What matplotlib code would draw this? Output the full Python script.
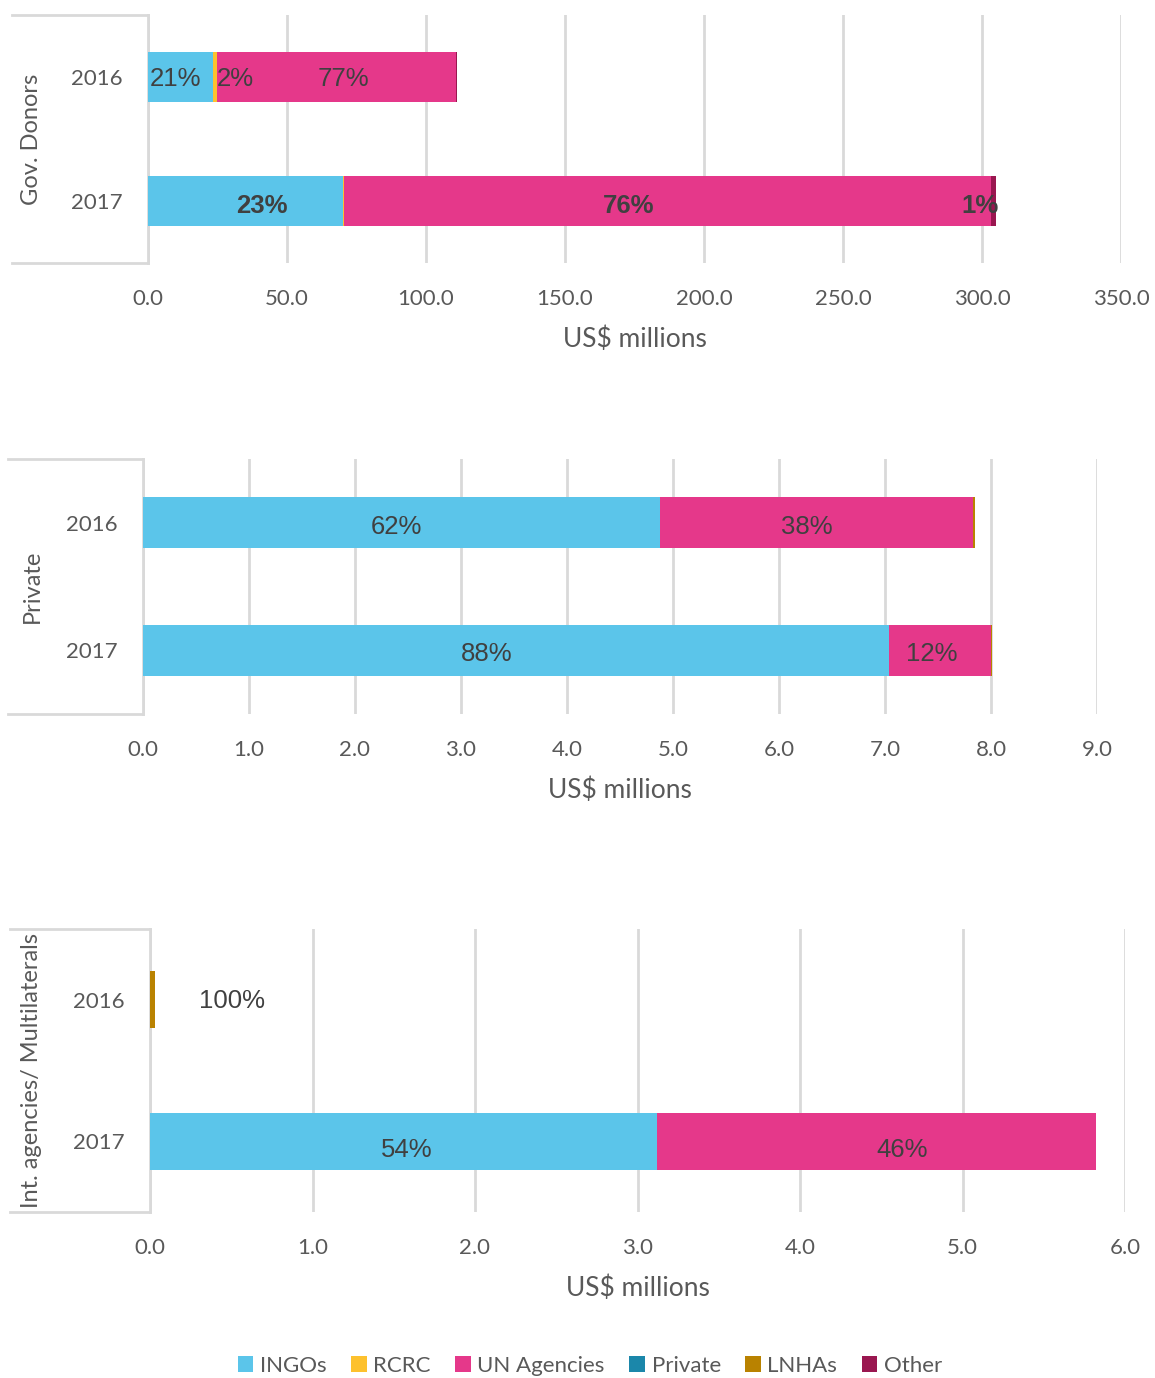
import numpy as np
import matplotlib.pyplot as plt
from matplotlib.patches import Patch

years = ['2016', '2017']
categories = ['INGOs', 'RCRC', 'UN Agencies', 'Private', 'LNHAs', 'Other']
colors = ['#5BC5EA', '#FDC12E', '#E5388A', '#1B87AA', '#B98200', '#9A1750']

# values in US$ millions, rows = years, cols = categories
gov_values = [[23.4, 1.5, 85.9, 0.0, 0.0, 0.3],
              [70.1, 0.4, 232.7, 0.0, 0.0, 1.8]]
gov_labels = [['21%', '2%', '77%', '', '', ''],
              ['23%', '', '76%', '', '', '1%']]

priv_values = [[4.88, 0.0, 2.95, 0.0, 0.02, 0.0],
               [7.04, 0.0, 0.96, 0.0, 0.01, 0.0]]
priv_labels = [['62%', '', '38%', '', '', ''],
               ['88%', '', '12%', '', '', '']]

int_values = [[0.0, 0.0, 0.0, 0.0, 0.03, 0.0],
              [3.12, 0.0, 2.70, 0.0, 0.0, 0.0]]
int_labels = [['', '', '', '', '100%', ''],
              ['54%', '', '46%', '', '', '']]

gov_ticks = np.arange(0, 351, 50)
priv_ticks = np.arange(0, 9.1, 1)
int_ticks = np.arange(0, 6.1, 1)

GRID = '#D9D9D9'
TXT = '#595959'
LBL = '#404040'
plt.rcParams['font.family'] = ['Lato', 'DejaVu Sans']

fig = plt.figure(figsize=(11.55, 13.78), dpi=100)
W, H = 1155, 1378


def panel(box, values, labels, ticks, group, bold, nudges, frame_x0):
    l, t, r, b = box
    ax = fig.add_axes([l / W, 1 - b / H, (r - l) / W, (b - t) / H])
    vals = np.array(values)
    y = np.arange(len(years))
    left = np.zeros(len(years))
    for j, cat in enumerate(categories):
        ax.barh(y, vals[:, j], left=left, height=0.4, color=colors[j],
                zorder=3)
        for i in range(len(years)):
            txt = labels[i][j]
            if txt:
                dx, dy = nudges.get((i, j), (0, -2))
                ax.annotate(txt, (left[i] + vals[i, j] / 2, y[i]),
                            xytext=(dx, dy), textcoords='offset pixels',
                            ha='center', va='center', fontsize=18.5,
                            color=LBL, family='Liberation Sans',
                            fontweight='bold' if bold[i] else 'normal',
                            zorder=5)
        left += vals[:, j]
    ax.set_xlim(ticks[0], ticks[-1])
    ax.set_ylim(len(years) - 0.5, -0.5)
    ax.set_xticks(ticks)
    ax.set_xticklabels(['{:.1f}'.format(v) for v in ticks])
    ax.set_yticks(y)
    ax.set_yticklabels(years)
    ax.tick_params(axis='both', length=0, labelsize=16, colors=TXT)
    ax.tick_params(axis='y', pad=18)
    ax.tick_params(axis='x', pad=19)
    ax.grid(axis='x', color=GRID, linewidth=2, zorder=0)
    for s in ['top', 'right', 'bottom']:
        ax.spines[s].set_visible(False)
    ax.spines['left'].set_color(GRID)
    ax.spines['left'].set_linewidth(2)
    ax.set_xlabel('US$ millions', fontsize=19, color=TXT, labelpad=12)
    # frame lines around the group label
    x0 = (frame_x0 - l) / (r - l)
    for yy in (0, 1):
        ax.plot([x0, 0], [yy, yy], transform=ax.transAxes, color=GRID,
                linewidth=2, clip_on=False)
    ax.text(-(l - 32) / (r - l), 0.5, group, transform=ax.transAxes,
            rotation=90, ha='center', va='center', fontsize=17,
            color=TXT)
    return ax


panel((148, 15, 1121, 263), gov_values, gov_labels, gov_ticks,
      'Gov. Donors', [False, True],
      {(0, 0): (-5, -2), (0, 1): (20, -2), (0, 2): (7, -2), (1, 0): (16, -5),
       (1, 2): (-39, -5), (1, 5): (-13, -5)}, 12)
panel((143, 459, 1097, 714), priv_values, priv_labels, priv_ticks,
      'Private', [False, False],
      {(0, 0): (-5, -4), (0, 2): (-10, -4), (1, 0): (-29, -4),
       (1, 2): (-8, -4)}, 8)
panel((150, 929, 1125, 1212), int_values, int_labels, int_ticks,
      'Int. agencies/ Multilaterals', [False, False],
      {(0, 4): (80, -1), (1, 0): (3, -9), (1, 2): (26, -9)}, 10)

handles = [Patch(facecolor=c, edgecolor='none') for c in colors]
fig.legend(handles, categories, loc='center', bbox_to_anchor=(590 / W, 1 - 1366 / H),
           ncol=6, frameon=False, fontsize=16, handlelength=0.7,
           handleheight=0.7, handletextpad=0.3, columnspacing=1.1,
           labelcolor=TXT)

fig.savefig('out.png', dpi=100)
